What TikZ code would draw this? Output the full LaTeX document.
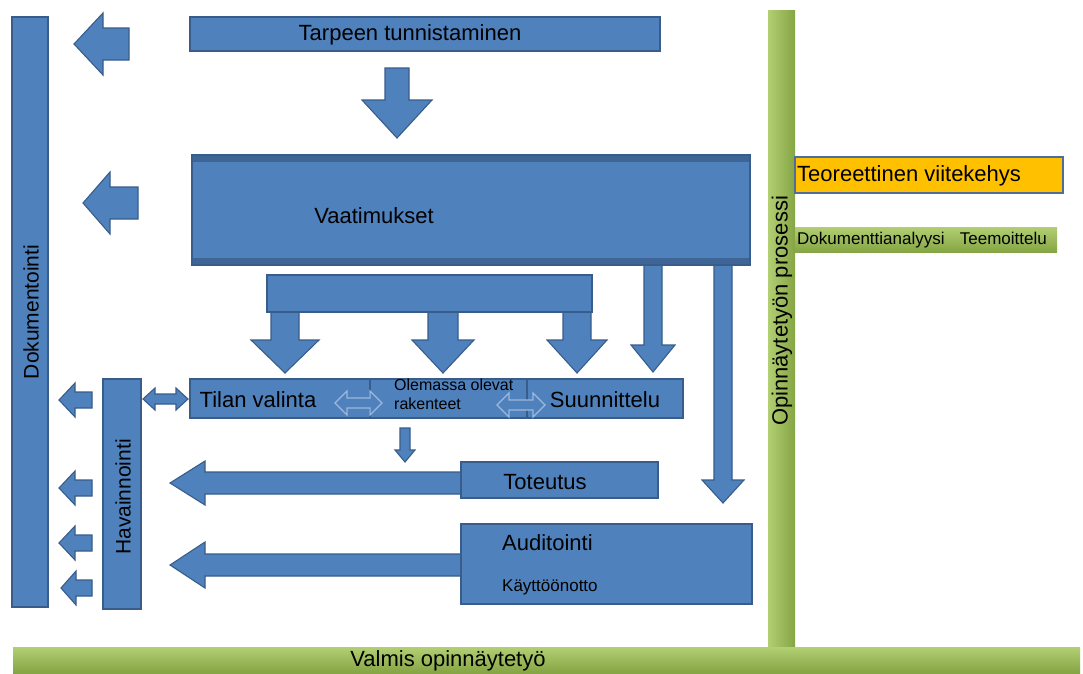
\documentclass[tikz,border=0pt]{standalone}
\usepackage{fontspec}
\setmainfont{Liberation Sans}
\definecolor{bfill}{HTML}{4F81BD}
\definecolor{bline}{HTML}{385D8A}
\definecolor{bband}{HTML}{3F6596}
\definecolor{blite}{HTML}{9DB8DC}
\definecolor{gLight}{HTML}{B2D073}
\definecolor{gMid}{HTML}{9BBB59}
\definecolor{gDark}{HTML}{85A443}
\definecolor{orng}{HTML}{FFC000}
\definecolor{obord}{HTML}{4F6E97}
\newcommand{\myLarrow}[6]{% tipx, cy, headx, endx, headhalf, shafthalf
  \draw[blk] (#1,#2) -- (#3,#2-#5) -- (#3,#2-#6) -- (#4,#2-#6) -- (#4,#2+#6)
    -- (#3,#2+#6) -- (#3,#2+#5) -- cycle;}
\newcommand{\myDarrow}[6]{% cx, top, heady, tipy, shafthalf, headhalf
  \draw[blk] (#1-#5,#2) -- (#1+#5,#2) -- (#1+#5,#3) -- (#1+#6,#3) -- (#1,#4)
    -- (#1-#6,#3) -- (#1-#5,#3) -- cycle;}
\newcommand{\myHDarrow}[7]{% style, x1, x2, cy, headlen, headhalf, shafthalf
  \draw[#1] (#2,#4) -- (#2+#5,#4-#6) -- (#2+#5,#4-#7) -- (#3-#5,#4-#7)
    -- (#3-#5,#4-#6) -- (#3,#4) -- (#3-#5,#4+#6) -- (#3-#5,#4+#7)
    -- (#2+#5,#4+#7) -- (#2+#5,#4+#6) -- cycle;}
\tikzset{
  blk/.style={fill=bfill,draw=bline,line width=1.1pt,line join=miter},
  box/.style={blk,inner sep=0pt,outer sep=0pt},
  lite/.style={fill=bfill,draw=blite,line width=1.1pt},
  big/.style={font=\fontsize{22}{26}\selectfont,text=black,inner sep=0pt},
  small/.style={font=\fontsize{17}{19}\selectfont,text=black,inner sep=0pt},
  gbarV/.style={shading=axis,left color=gLight,right color=gDark,inner sep=0pt,outer sep=0pt},
  gbarH/.style={shading=axis,top color=gLight,bottom color=gDark,inner sep=0pt,outer sep=0pt},
}
\begin{document}
\begin{tikzpicture}[x=1pt,y=-1pt]
\useasboundingbox[fill=white] (0,0) rectangle (1083,673);

% Dokumentointi bar
\node[box,minimum width=36pt,minimum height=590pt] (dok) at (30,312) {};
\node[big,font=\fontsize{21}{25}\selectfont,rotate=90] (dokT) at (31,312) {Dokumentointi};

% left arrows towards Dokumentointi
\myLarrow{74}{44}{103}{129}{31}{16}
\myLarrow{83}{203}{110}{138}{31}{16}
\myLarrow{59}{400}{75}{92}{17}{8}
\myLarrow{59}{488}{75}{92}{17}{8}
\myLarrow{59}{543}{75}{92}{17}{8}
\myLarrow{61}{588}{76}{92}{17}{8}

% Tarpeen tunnistaminen
\node[box,minimum width=470pt,minimum height=34pt] (tarp) at (425,34) {};
\node[big] (tarpT) at (410,35) {Tarpeen tunnistaminen};
\myDarrow{397}{68}{100}{138}{12}{35}

% arrows out of Vaatimukset (drawn first, box on top)
\myDarrow{653}{258}{345}{372}{9}{22}
\myDarrow{723}{258}{480}{503}{9}{21}

% Vaatimukset
\node[box,minimum width=558pt,minimum height=110pt] (vaat) at (471,210) {};
\fill[bband] (vaat.north west) rectangle ([yshift=-7pt]vaat.north east);
\fill[bband] ([yshift=7pt]vaat.south west) rectangle (vaat.south east);
\draw[bline,line width=1.1pt] (vaat.north west) rectangle (vaat.south east);
\node[big] (vaatT) at (374,216) {Vaatimukset};

% bracket and its three arrows
\myDarrow{285}{300}{340}{373}{14}{34}
\myDarrow{443}{300}{340}{373}{15}{31}
\myDarrow{577}{300}{340}{373}{14}{30}
\node[box,minimum width=325pt,minimum height=37pt] (brak) at (429.5,293.5) {};

% middle row
\node[box,minimum width=180pt,minimum height=39pt] (tilan) at (280,398.5) {};
\node[box,minimum width=157pt,minimum height=39pt] (olem) at (448.5,398.5) {};
\node[box,minimum width=156pt,minimum height=39pt] (suun) at (605,398.5) {};
\node[big] (tilanT) at (258,400) {Tilan valinta};
\node[big] (suunT) at (605,400) {Suunnittelu};
\node[small,font=\fontsize{16}{19}\selectfont,align=left,anchor=north west] (olemT) at (394,379) {Olemassa olevat\\rakenteet};
\myHDarrow{lite}{335}{382}{403}{12}{12}{5}
\myHDarrow{lite}{497}{545}{405}{12}{12}{5}

% Havainnointi
\node[box,minimum width=38pt,minimum height=230pt] (hav) at (122,494) {};
\node[big,font=\fontsize{21}{25}\selectfont,rotate=90] (havT) at (123,497) {Havainnointi};
\myHDarrow{blk}{143}{188}{399}{12}{11}{5}

% small arrow down
\myDarrow{405}{428}{450}{462}{5}{10}

% long arrows to Havainnointi
\myLarrow{170}{483}{205}{463}{22}{11}
\myLarrow{170}{565}{205}{463}{23}{11}

% Toteutus, Auditointi
\node[box,minimum width=197pt,minimum height=36pt] (tot) at (559.5,480) {};
\node[big] (totT) at (545,482) {Toteutus};
\node[box,minimum width=291pt,minimum height=80pt] (aud) at (606.5,564) {};
\node[big,anchor=west] (audT) at (502,543) {Auditointi};
\node[small,anchor=west] (kayT) at (502,587) {Käyttöönotto};

% green process bar and right boxes
\node[gbarV,minimum width=27pt,minimum height=638pt] (proc) at (781.5,329) {};
\node[big,rotate=90] (procT) at (782,311) {Opinnäytetyön prosessi};
\node[fill=orng,draw=obord,line width=1.5pt,inner sep=0pt,minimum width=268pt,minimum height=36pt] (teor) at (929,175) {};
\node[big,anchor=west] (teorT) at (797,176) {Teoreettinen viitekehys};
\node[gbarH,minimum width=262pt,minimum height=25pt] (doka) at (926,239.5) {};
\node[small,anchor=west] (dokaT) at (797,240) {Dokumenttianalyysi\hspace{0.9em}Teemoittelu};

% Valmis opinnäytetyö
\node[gbarH,minimum width=1067pt,minimum height=26pt] (valm) at (546.5,660) {};
\node[big] (valmT) at (448,661) {Valmis opinnäytetyö};
\end{tikzpicture}
\end{document}
